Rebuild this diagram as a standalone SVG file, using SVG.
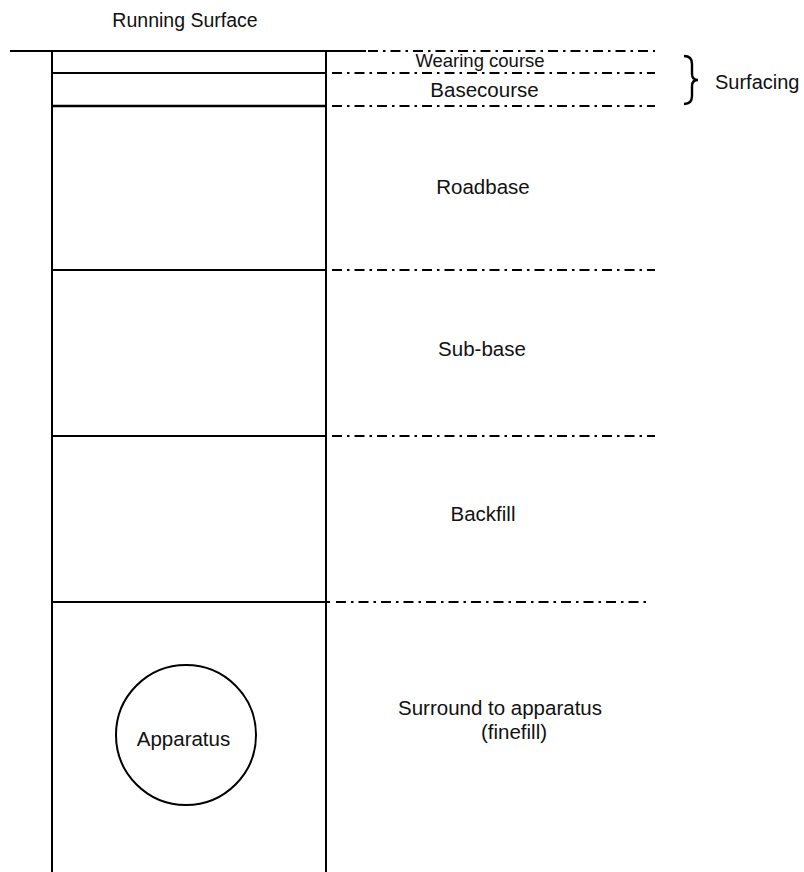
<svg xmlns="http://www.w3.org/2000/svg" width="804" height="872" viewBox="0 0 804 872">
<style>
.t{font-family:"Liberation Sans",Arial,sans-serif;font-size:20.5px;fill:#111;text-anchor:middle}
.s{stroke:#000;stroke-width:2;fill:none}
.dd{stroke:#000;stroke-width:2.2;fill:none;stroke-dasharray:10 5 2.5 5}
</style>
<rect width="804" height="872" fill="#fff"/>
<g id="structure">
<line class="s" x1="10" y1="51" x2="366" y2="51"/>
<line class="s" x1="52" y1="50" x2="52" y2="872"/>
<line class="s" x1="326" y1="50" x2="326" y2="872"/>
<line class="s" x1="52" y1="73" x2="326" y2="73"/>
<line class="s" x1="52" y1="106" x2="326" y2="106" style="stroke-width:2.6"/>
<line class="s" x1="52" y1="270" x2="326" y2="270"/>
<line class="s" x1="52" y1="436" x2="326" y2="436"/>
<line class="s" x1="52" y1="602" x2="330" y2="602"/>
</g>
<g id="connectors">
<line class="dd" x1="368" y1="51" x2="655" y2="51"/>
<line class="dd" x1="332" y1="73" x2="655" y2="73"/>
<line class="dd" x1="332" y1="106" x2="655" y2="106"/>
<line class="dd" x1="332" y1="270" x2="655" y2="270"/>
<line class="dd" x1="332" y1="436" x2="655" y2="436"/>
<line class="dd" x1="336" y1="602" x2="650" y2="602"/>
</g>
<g id="running-surface"><text class="t" x="185" y="27" style="font-size:19.5px">Running Surface</text></g>
<g id="wearing-course"><text class="t" x="480" y="67" style="font-size:18.5px">Wearing course</text></g>
<g id="basecourse"><text class="t" x="484.5" y="97">Basecourse</text></g>
<g id="surfacing">
<path class="s" d="M684,56 Q692,56 692,64 L692,74 Q692,80 698,80 Q692,80 692,86 L692,96 Q692,104 684,104" style="stroke-width:2.4"/>
<text class="t" x="715" y="89" style="text-anchor:start;font-size:20px">Surfacing</text>
</g>
<g id="roadbase"><text class="t" x="483" y="194">Roadbase</text></g>
<g id="sub-base"><text class="t" x="482" y="356">Sub-base</text></g>
<g id="backfill"><text class="t" x="483" y="521">Backfill</text></g>
<g id="surround"><text class="t" x="500" y="715">Surround to apparatus</text><text class="t" x="514" y="739">(finefill)</text></g>
<g id="apparatus"><circle class="s" cx="186" cy="735" r="70"/><text class="t" x="183.5" y="746">Apparatus</text></g>
</svg>
